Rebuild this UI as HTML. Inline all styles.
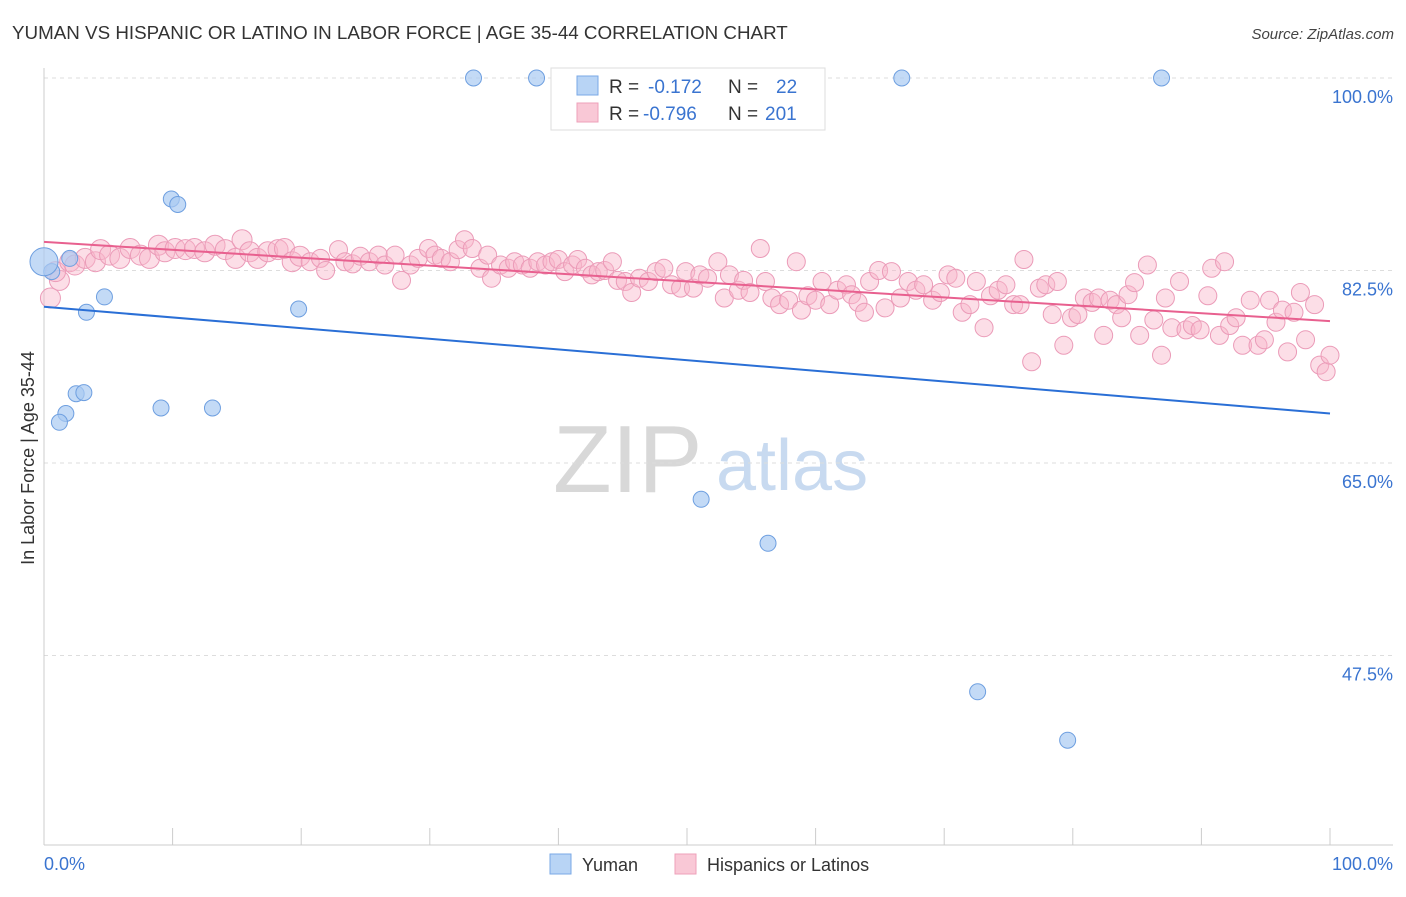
<!DOCTYPE html>
<html><head><meta charset="utf-8"><style>
body{margin:0;background:#fff;font-family:"Liberation Sans",sans-serif;}
svg text{font-family:"Liberation Sans",sans-serif;}
</style></head><body>
<svg id="chart" width="1406" height="892" xmlns="http://www.w3.org/2000/svg">
<text x="12" y="39" font-size="18.8" fill="#333">YUMAN VS HISPANIC OR LATINO IN LABOR FORCE | AGE 35-44 CORRELATION CHART</text>
<text x="1394" y="39" font-size="15" fill="#444" font-style="italic" text-anchor="end">Source: ZipAtlas.com</text>
<g>
<text x="553" y="492" font-size="96" fill="#d8d8d8" font-family="Liberation Serif,serif">ZIP</text>
<text x="716" y="490" font-size="72" fill="#c8daf0">atlas</text>
</g>
<g id="grid"></g>
<g id="marks"></g>
<text transform="translate(34,458) rotate(-90)" font-size="18" fill="#333" text-anchor="middle">In Labor Force | Age 35-44</text>
<g>
<rect x="551" y="68" width="274" height="62" fill="#fff" stroke="#ddd"/>
<rect x="577" y="76" width="21" height="19" fill="#b8d4f5" stroke="#7aa8e6"/>
<rect x="577" y="103" width="21" height="19" fill="#f9c8d6" stroke="#eea0ba"/>
<text x="609" y="93" font-size="19" fill="#333">R =</text>
<text x="648" y="93" font-size="19" fill="#3a74d0">-0.172</text>
<text x="728" y="93" font-size="19" fill="#333">N =</text>
<text x="776" y="93" font-size="19" fill="#3a74d0">22</text>
<text x="609" y="120" font-size="19" fill="#333">R =</text>
<text x="643" y="120" font-size="19" fill="#3a74d0">-0.796</text>
<text x="728" y="120" font-size="19" fill="#333">N =</text>
<text x="765" y="120" font-size="19" fill="#3a74d0">201</text>
</g>
<g>
<rect x="550" y="854" width="21" height="20" fill="#b8d4f5" stroke="#7aa8e6"/>
<text x="582" y="871" font-size="18" fill="#333">Yuman</text>
<rect x="675" y="854" width="21" height="20" fill="#f9c8d6" stroke="#eea0ba"/>
<text x="707" y="871" font-size="18" fill="#333">Hispanics or Latinos</text>
</g>
</svg>
<script>
const yTicks=[100,82.5,65,47.5];
const yTickLabels=["100.0%","82.5%","65.0%","47.5%"];
const xTickLabels=["0.0%","100.0%"];
const yumanX=[33.4,38.3,66.7,86.9,9.9,10.4,0.6,0,2.0,4.7,3.3,19.8,2.5,3.1,1.7,1.2,9.1,13.1,51.1,56.3,72.6,79.6];
const yumanY=[100,100,100,100,89.0,88.5,82.4,83.3,83.6,80.1,78.7,79.0,71.3,71.4,69.5,68.7,70.0,70.0,61.7,57.7,44.2,39.8];
const hispX=[0.5,1.2,0.9,2.0,2.4,3.2,4.0,4.4,5.1,5.9,6.7,7.5,8.2,8.9,9.4,10.2,11.0,11.7,12.5,13.3,14.1,14.9,15.4,16.0,16.6,17.4,18.2,18.7,19.3,19.9,20.7,21.5,21.9,22.9,23.4,24.0,24.6,25.3,26.0,26.5,27.3,27.8,28.5,29.1,29.9,30.4,30.9,31.6,32.2,32.7,33.3,33.9,34.5,34.8,35.5,36.1,36.6,37.2,37.8,38.4,39.0,39.5,40.0,40.5,41.1,41.5,42.1,42.6,43.1,43.6,44.2,44.6,45.2,45.7,46.3,47.0,47.6,48.2,48.8,49.5,49.9,50.5,51.0,51.6,52.4,52.9,53.3,54.0,54.4,54.9,55.7,56.1,56.6,57.2,57.9,58.5,58.9,59.4,60.0,60.5,61.1,61.7,62.4,62.8,63.3,63.8,64.2,64.9,65.4,65.9,66.6,67.2,67.8,68.4,69.1,69.7,70.3,70.9,71.4,72.0,72.5,73.1,73.6,74.2,74.8,75.4,75.9,76.2,76.8,77.4,77.9,78.4,78.8,79.3,79.9,80.4,80.9,81.5,82.0,82.4,82.9,83.4,83.8,84.3,84.8,85.2,85.8,86.3,86.9,87.2,87.7,88.3,88.8,89.3,89.9,90.5,90.8,91.4,91.8,92.2,92.7,93.2,93.8,94.4,94.9,95.3,95.8,96.3,96.7,97.2,97.7,98.1,98.8,99.2,99.7,100];
const hispY=[80.0,81.6,82.4,83.3,83.0,83.6,83.3,84.4,83.9,83.6,84.5,83.9,83.6,84.8,84.2,84.5,84.4,84.5,84.2,84.8,84.4,83.6,85.3,84.2,83.6,84.2,84.4,84.5,83.3,83.8,83.3,83.6,82.5,84.4,83.3,83.1,83.8,83.3,83.9,83.0,83.9,81.6,83.0,83.6,84.5,83.9,83.6,83.3,84.4,85.3,84.5,82.7,83.9,81.8,83.0,82.7,83.3,83.0,82.7,83.3,83.0,83.3,83.5,82.4,83.0,83.5,82.7,82.1,82.4,82.5,83.3,81.6,81.5,80.5,81.8,81.5,82.4,82.7,81.2,80.9,82.4,80.9,82.1,81.8,83.3,80.0,82.1,80.7,81.6,80.5,84.5,81.5,80.0,79.4,79.8,83.3,78.9,80.2,79.8,81.5,79.4,80.7,81.2,80.3,79.6,78.7,81.5,82.5,79.1,82.4,80.0,81.5,80.7,81.2,79.8,80.5,82.1,81.8,78.7,79.4,81.5,77.3,80.2,80.7,81.2,79.4,79.4,83.5,74.2,80.9,81.2,78.5,81.5,75.7,78.2,78.5,80.0,79.6,80.0,76.6,79.8,79.4,78.2,80.3,81.4,76.6,83.0,78.0,74.8,80.0,77.3,81.5,77.1,77.5,77.1,80.2,82.7,76.6,83.3,77.5,78.2,75.7,79.8,75.7,76.2,79.8,77.8,78.9,75.1,78.7,80.5,76.2,79.4,73.9,73.3,74.8];
const yumanTrend=[79.2,69.5];
const hispTrend=[85.1,77.9];
const NS="http://www.w3.org/2000/svg";
const X=v=>44+v*12.86, Y=v=>78+(100-v)*11;
function mk(t,a,p){const e=document.createElementNS(NS,t);for(const k in a)e.setAttribute(k,a[k]);p.appendChild(e);return e;}
const grid=document.getElementById('grid'),marks=document.getElementById('marks');
yTicks.forEach((t,i)=>{
 const l=mk('line',{x1:44,x2:1393,y1:Y(t),y2:Y(t),stroke:'#ddd','stroke-dasharray':'4,4'},grid);
 
 
 const tx=mk('text',{x:1393,y:Y(t)+25,'font-size':18,fill:'#3a74d0','text-anchor':'end'},grid);tx.textContent=yTickLabels[i];
 
 
});
mk('line',{x1:44,x2:44,y1:68,y2:845,stroke:'#ccc'},grid);
mk('line',{x1:44,x2:1393,y1:845,y2:845,stroke:'#ccc'},grid);
for(let i=0;i<=10;i++){const t=mk('line',{x1:X(i*10),x2:X(i*10),y1:828,y2:845,stroke:'#ccc'},grid);
 
 }
[[0,'start',44],[100,'end',1393]].forEach((d,i)=>{const t=mk('text',{x:d[2],y:870,'font-size':18,fill:'#3a74d0','text-anchor':d[1]},grid);t.textContent=xTickLabels[i];
 
 });
hispX.forEach((x,i)=>{const c=mk('circle',{cx:X(x),cy:Y(hispY[i]),r:x<20?10:9,fill:'rgba(248,182,202,0.45)',stroke:'#eb9bb8','stroke-width':1},marks);
 
 });
yumanX.forEach((x,i)=>{const c=mk('circle',{cx:X(x),cy:Y(yumanY[i]),r:i==7?14:8,fill:'rgba(170,202,242,0.7)',stroke:'#6e9fe0','stroke-width':1},marks);
 
 });
const l1=mk('line',{x1:X(0),x2:X(100),y1:Y(yumanTrend[0]),y2:Y(yumanTrend[1]),stroke:'#2a6fd6','stroke-width':2},marks);


const l2=mk('line',{x1:X(0),x2:X(100),y1:Y(hispTrend[0]),y2:Y(hispTrend[1]),stroke:'#e8608f','stroke-width':2},marks);


</script>
</body></html>
